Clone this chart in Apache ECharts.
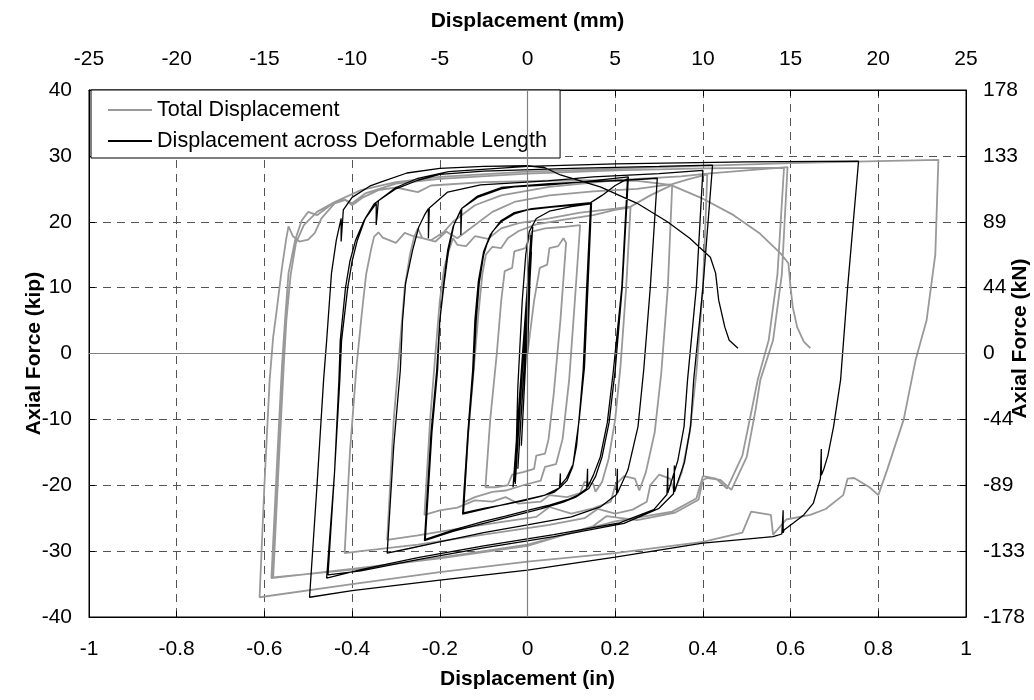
<!DOCTYPE html>
<html>
<head>
<meta charset="utf-8">
<title>Axial force vs displacement</title>
<script src="https://cdn.jsdelivr.net/npm/echarts@6.0.0/dist/echarts.min.js"></script>
<style>
    html, body { margin: 0; padding: 0; background: #fff; }
    #chart { width: 1034px; height: 700px; }
</style>
</head>
<body>
<div id="chart"></div>
<script>
// axis ticks (kip on the left, kN labels on the right)
var kipTicks = [-40, -30, -20, -10, 0, 10, 20, 30, 40];
var kNLabels = ['-178', '-133', '-89', '-44', '0', '44', '89', '133', '178'];

// Displacement across Deformable Length, [in, kip]
var deformElastic = [[0,0],[0.006,12],[-0.014,-14],[0.009,15.5],[-0.022,-17.5],[0.011,18.5],[-0.03,-19.5],[0.012,19.2],[-0.033,-20.3],[0.008,18],[-0.028,-19.8]];
var deformB = [[-0.022,-5],[-0.012,8],[-0.004,15],[0.004,18.5],[0.02,20.5],[0.05,21.6],[0.1,22.3],[0.144,22.7],
    [0.135,10],[0.127,-2.5],[0.12,-8.1],[0.112,-14],[0.103,-17.2],[0.09,-19.3],[0.075,-20.3],[0.06,-21.1],[0.03,-21.7],[0,-22.2],[-0.05,-22.9],[-0.1,-23.5],[-0.146,-24.2],
    [-0.135,-12],[-0.123,-2.5],[-0.117,5],[-0.11,10.7],[-0.1,15],[-0.093,16.5],[-0.08,18.5],[-0.06,20],[-0.03,21.2],[0,21.8],[0.05,22.2],[0.1,22.5],[0.146,22.8],
    [0.13,-2],[0.118,-10],[0.104,-16.8],[0.088,-19],[0.075,-20],[0.075,-18.2],[0.073,-20.4],[0.04,-21.5],[0,-22.1],[-0.06,-23],[-0.148,-24.4]];
var deformC = [[-0.136,-12],[-0.125,-2.5],[-0.12,5],[-0.112,11],[-0.1,15.5],[-0.085,18],[-0.06,20.2],[-0.03,21.4],[0.01,22],[0.07,22.4],[0.144,22.9],[0.17,24],[0.2,25.5],[0.228,26.5],
    [0.215,10],[0.196,-2.5],[0.182,-10.5],[0.166,-15.7],[0.15,-18.5],[0.137,-20.3],[0.137,-17.5],[0.135,-20.5],[0.115,-21.5],[0.091,-22.2],[0.05,-23],[0.007,-23.7],[-0.05,-24.7],[-0.1,-25.5],[-0.17,-26.8],[-0.233,-28.2],
    [-0.218,-12],[-0.205,-2.5],[-0.2,5],[-0.191,10.7],[-0.182,15.7],[-0.17,19.2],[-0.152,21.8],[-0.152,18],[-0.15,22],[-0.114,23.7],[-0.06,25],[-0.03,25.3],[0.05,25.6],[0.12,26],[0.23,26.8],
    [0.216,10],[0.2,-2.5],[0.186,-10.5],[0.17,-15.7],[0.155,-18.7],[0.14,-20.5],[0.11,-21.8],[0.08,-22.6],[0.03,-23.6],[-0.03,-24.6],[-0.1,-25.8],[-0.17,-27],[-0.235,-28.4]];
var deformD = [[-0.22,-12],[-0.207,-2.5],[-0.2,5],[-0.19,10.7],[-0.18,15.7],[-0.168,19.5],[-0.15,22],[-0.114,23.9],[-0.06,25.2],[0.05,25.8],[0.15,26.1],[0.22,26.3],[0.296,26.6],
    [0.28,10],[0.265,-2.5],[0.252,-11.1],[0.229,-17.7],[0.205,-21.2],[0.205,-17.5],[0.203,-21.4],[0.166,-23.3],[0.1,-24.8],[0,-26],[-0.1,-27.2],[-0.2,-28.6],[-0.27,-29.6],[-0.32,-30.3]];
var deformE = [[-0.305,-14],[-0.29,-2.5],[-0.285,5],[-0.278,10.7],[-0.262,15.7],[-0.248,19.2],[-0.235,21],[-0.226,22],[-0.226,17.5],[-0.224,22.1],[-0.182,24.5],[-0.107,25.6],[0.046,26.2],[0.15,26.8],[0.3,27.3],[0.4,27.8],
    [0.385,10],[0.365,-4],[0.357,-11.1],[0.343,-16.2],[0.32,-21.2],[0.32,-17.4],[0.318,-21.4],[0.288,-23.7],[0.21,-25.7],[0.06,-27.5],[-0.1,-29.2],[-0.25,-31],[-0.38,-32.8],[-0.458,-34.1],
    [-0.44,-18],[-0.43,-4],[-0.427,2],[-0.415,10],[-0.405,14],[-0.392,17.2],[-0.372,20.3],[-0.345,22.8],[-0.345,19.5],[-0.34,23.2],[-0.3,25],[-0.25,26.3],[-0.2,27.2],[-0.1,27.7],[0.1,28.1],[0.3,28.4],[0.422,28.6],
    [0.4,10],[0.379,-4],[0.372,-11],[0.358,-16.5],[0.335,-21],[0.335,-17],[0.333,-21.3],[0.3,-23.5],[0.22,-25.8],[0.06,-27.8],[-0.1,-29.5],[-0.25,-31.3],[-0.38,-33],[-0.455,-33.6]];
var deformF = [[-0.44,-18],[-0.428,-4],[-0.424,2],[-0.41,10],[-0.4,14],[-0.388,17.2],[-0.37,20.5],[-0.35,22.7],[-0.3,25.2],[-0.25,26.6],[-0.18,27.6],[0,28.4],[0.2,28.8],[0.5,29.1],[0.755,29.2],
    [0.73,10],[0.714,-4],[0.698,-11.1],[0.685,-15.5],[0.675,-17.7],[0.67,-18.5],[0.67,-14.5],[0.668,-19],[0.652,-22.7],[0.63,-24.5],[0.607,-25.7],[0.585,-26.8],[0.583,-27.2],[0.583,-23.8],[0.58,-27.4],[0.56,-27.8],[0.4,-28.8],[0.2,-30.9],[0,-32.9],[-0.2,-34.4],[-0.4,-36],[-0.497,-37]];
var deformFail = [[-0.48,-20],[-0.465,-4],[-0.458,2],[-0.447,12.2],[-0.436,17.2],[-0.425,20.5],[-0.425,17],[-0.42,21.8],[-0.4,23.7],[-0.36,25.4],[-0.335,26],[-0.275,27.4],[-0.2,28.1],[-0.1,28.4],[0,28.5],[0.04,28.2],[0.075,27.1],[0.166,25.3],[0.25,22.8],[0.319,20],[0.37,17.5],[0.417,14.6],[0.429,12.2],[0.436,8.1],[0.45,4],[0.46,2],[0.48,0.8]];

// Total Displacement, [in, kip]
var totalSmall = [[0,0],[0.015,8],[0.028,13],[0.045,13.5],[0.05,16],[0.07,16.3],[0.082,17.5],[0.088,16.8],
    [0.075,5],[0.06,-6],[0.048,-13],[0.04,-15.2],[0.02,-15.5],[0.015,-17.5],[-0.01,-18],[-0.035,-18.4],[-0.045,-20],[-0.07,-20.3],[-0.096,-20.3],
    [-0.085,-10],[-0.07,0],[-0.06,8],[-0.052,12.5],[-0.035,13],[-0.03,15.5],[-0.005,16],[0.01,18.5],[0.04,19],[0.08,19.2],[0.12,19.5],
    [0.108,8],[0.095,-4],[0.08,-13],[0.065,-16.8],[0.04,-17.2],[0.03,-19.3],[-0.01,-20],[-0.05,-20.8],[-0.08,-21],[-0.12,-21.8],[-0.146,-22.6]];
var totalB = [[-0.135,-12],[-0.122,-2],[-0.112,6],[-0.103,12],[-0.095,15],[-0.08,16.2],[-0.06,16],[-0.045,17.5],[-0.02,18.6],[0.02,19.6],[0.08,20.3],[0.15,21],[0.2,21.8],[0.235,22.2],
    [0.225,10],[0.212,-2],[0.2,-10],[0.185,-16],[0.17,-19.5],[0.155,-21],[0.15,-19.8],[0.13,-19.5],[0.12,-21.2],[0.09,-21.8],[0.05,-21.5],[0.03,-22.5],[-0.02,-22.8],[-0.05,-21.8],[-0.08,-22.5],[-0.12,-22.3],[-0.16,-23.4],[-0.2,-23.8],[-0.235,-24.5],
    [-0.222,-10],[-0.21,0],[-0.2,8],[-0.19,13],[-0.18,15.5],[-0.17,17.5],[-0.16,16.5],[-0.14,16.3],[-0.12,17.8],[-0.09,17.4],[-0.06,19],[-0.02,19.8],[0.05,20.5],[0.12,21.4],[0.2,22],[0.235,22.3]];
var totalC = [[0.28,24],[0.33,25.6],
    [0.32,10],[0.305,-3],[0.29,-12],[0.27,-18],[0.255,-20.8],[0.245,-19],[0.22,-18.6],[0.2,-20],[0.19,-22.5],[0.15,-23.5],[0.1,-24.3],[0.05,-23.3],[0.02,-24.8],[-0.05,-25.5],[-0.15,-26.5],[-0.25,-27.6],[-0.32,-28.3],
    [-0.305,-10],[-0.29,2],[-0.28,10],[-0.268,15],[-0.258,17.8],[-0.25,19],[-0.24,17.5],[-0.21,17],[-0.185,18.5],[-0.16,17.5],[-0.12,19.5],[-0.08,21.5],[-0.03,23],[0.05,24],[0.15,24.6],[0.25,25],[0.33,25.7]];
var totalD = [[0.37,26.5],[0.41,27.2],
    [0.4,10],[0.385,-3],[0.37,-12],[0.352,-18],[0.335,-21],[0.325,-19],[0.3,-18.4],[0.28,-20],[0.272,-22.5],[0.24,-23.7],[0.2,-24.3],[0.16,-23.6],[0.13,-25],[0.05,-26],[-0.1,-27.5],[-0.25,-29],[-0.38,-30],[-0.417,-30.3],
    [-0.405,-15],[-0.39,-2],[-0.378,6],[-0.368,12],[-0.357,15.7],[-0.35,17.7],[-0.34,18.4],[-0.33,17.6],[-0.3,16.8],[-0.28,18.3],[-0.26,17.8],[-0.22,17.2],[-0.19,18.5],[-0.17,20],[-0.12,22.5],[-0.06,24],[0.05,25.3],[0.2,26.3],[0.35,26.9],[0.41,27.3]];
var totalE = [[0.5,27.8],[0.593,28.3],
    [0.58,12],[0.56,2],[0.531,-4],[0.52,-8.6],[0.5,-15.7],[0.465,-20.7],[0.44,-19.2],[0.41,-18.9],[0.4,-19.2],[0.39,-22.2],[0.335,-24.2],[0.25,-25.3],[0.18,-24.7],[0.15,-26.2],[0,-29.2],[-0.2,-31.1],[-0.4,-32.7],[-0.584,-34.1],
    [-0.57,-15],[-0.56,-2],[-0.553,5],[-0.545,12.2],[-0.53,17.2],[-0.515,20.2],[-0.5,21.5],[-0.48,21],[-0.45,22.5],[-0.42,23.5],[-0.4,22.8],[-0.37,24.3],[-0.3,25.8],[-0.2,26.5],[0,27.3],[0.2,27.8],[0.4,28.1],[0.585,28.2],
    [0.57,12],[0.55,2],[0.525,-4],[0.51,-9],[0.49,-15.5],[0.455,-20.5],[0.43,-19],[0.4,-18.6],[0.385,-22],[0.33,-24],[0.2,-25.5],[0,-29],[-0.2,-31],[-0.4,-32.8],[-0.58,-34]];
var totalF = [[-0.566,-15],[-0.556,-2],[-0.55,5],[-0.54,12],[-0.528,16.8],[-0.51,19.5],[-0.48,21.5],[-0.44,23],[-0.38,24.8],[-0.3,26],[-0.2,26.8],[0,27.6],[0.3,28.3],[0.6,28.9],[0.8,29.2],[0.937,29.4],
    [0.93,15],[0.91,5],[0.885,-1],[0.858,-10],[0.82,-17.7],[0.8,-21.5],[0.78,-20.3],[0.745,-18.9],[0.73,-19],[0.72,-21.5],[0.68,-23.6],[0.645,-24.5],[0.59,-25.2],[0.56,-27.5],[0.555,-24.5],[0.51,-24],[0.49,-27.2],[0.4,-28.6],[0.2,-30.3],[0,-31.6],[-0.2,-33.2],[-0.4,-35],[-0.611,-37]];
var totalFail = [[-0.6,-20],[-0.588,-4],[-0.58,2.5],[-0.573,6],[-0.56,13],[-0.55,17.5],[-0.545,19.3],[-0.535,17.8],[-0.52,17],[-0.5,17.3],[-0.485,18.3],[-0.47,20.5],[-0.44,22.8],[-0.415,23.3],[-0.4,22.5],[-0.375,23.7],[-0.34,24.8],[-0.3,25.2],[-0.25,24.5],[-0.22,25.5],[-0.1,26],[0.1,26.3],[0.25,26.2],[0.326,25.6],[0.4,23.5],[0.47,21],[0.53,18.2],[0.577,15.2],[0.595,13.7],[0.6,10],[0.605,7],[0.615,4],[0.63,1.8],[0.645,0.8]];

var totalPath = [].concat(totalSmall, totalB, totalC, totalD, totalE, totalF, totalFail);
var deformPath = [].concat(deformElastic, deformB, deformC, deformD, deformE, deformF, deformFail);

var font = 'Liberation Sans, Arial, sans-serif';
var labelStyle = { color: '#000', fontSize: 21, fontFamily: font };
var nameStyle = { color: '#000', fontSize: 21, fontWeight: 'bold', fontFamily: font };
var dashGrid = { show: true, lineStyle: { color: '#555', type: [8, 6], width: 1 } };

var option = {
    animation: false,
    backgroundColor: '#fff',
    grid: {
        left: 89, right: 68, top: 90, bottom: 83,
        outerBoundsMode: 'none',
        show: true, borderColor: '#000', borderWidth: 1, backgroundColor: 'transparent'
    },
    legend: {
        data: [
            { name: 'Total Displacement', icon: 'rect', itemStyle: { color: '#999' } },
            { name: 'Displacement across Deformable Length', icon: 'rect', itemStyle: { color: '#000' } }
        ],
        orient: 'vertical',
        left: 91, top: 90,
        padding: [9, 13, 6, 17],
        itemGap: 9,
        itemWidth: 44, itemHeight: 2,
        backgroundColor: '#fff',
        borderColor: '#000', borderWidth: 1,
        textStyle: { color: '#000', fontSize: 21.6, fontFamily: font }
    },
    xAxis: [
        {
            type: 'value', position: 'bottom', min: -1, max: 1, interval: 0.2,
            name: 'Displacement (in)', nameLocation: 'middle', nameGap: 52, nameMoveOverlap: false,
            nameTextStyle: nameStyle,
            axisLine: { onZero: false, lineStyle: { color: '#000' } },
            axisTick: { inside: true, length: 6, lineStyle: { color: '#000' } },
            axisLabel: Object.assign({ margin: 22 }, labelStyle),
            splitLine: dashGrid
        },
        {
            type: 'value', position: 'top', min: -25, max: 25, interval: 5,
            name: 'Displacement (mm)', nameLocation: 'middle', nameGap: 58, nameMoveOverlap: false,
            nameTextStyle: nameStyle,
            axisLine: { onZero: false, lineStyle: { color: '#000' } },
            axisTick: { inside: true, length: 6, lineStyle: { color: '#000' } },
            axisLabel: Object.assign({ margin: 20 }, labelStyle),
            splitLine: { show: false }
        }
    ],
    yAxis: [
        {
            type: 'value', position: 'left', min: -40, max: 40, interval: 10,
            name: 'Axial Force (kip)', nameLocation: 'middle', nameGap: 44, nameMoveOverlap: false,
            nameTextStyle: nameStyle,
            axisLine: { onZero: false, lineStyle: { color: '#000' } },
            axisTick: { inside: true, length: 6, lineStyle: { color: '#000' } },
            axisLabel: Object.assign({ margin: 17 }, labelStyle),
            splitLine: dashGrid
        },
        {
            type: 'value', position: 'right', min: -40, max: 40, interval: 10,
            name: 'Axial Force (kN)', nameLocation: 'middle', nameGap: 44, nameMoveOverlap: false,
            nameTextStyle: Object.assign({ padding: [0, 0, 0, 30] }, nameStyle),
            axisLine: { onZero: false, lineStyle: { color: '#000' } },
            axisTick: { inside: true, length: 6, lineStyle: { color: '#000' } },
            axisLabel: Object.assign({
                margin: 17,
                formatter: function (v) { return kNLabels[kipTicks.indexOf(v)]; }
            }, labelStyle),
            splitLine: { show: false }
        }
    ],
    series: [
        {
            name: 'Total Displacement',
            type: 'line',
            data: totalPath,
            showSymbol: false, symbol: 'none',
            lineStyle: { color: '#999', width: 1.8 },
            itemStyle: { color: '#999' },
            markLine: {
                silent: true, symbol: 'none', label: { show: false },
                lineStyle: { color: '#808080', type: 'solid', width: 1.2 },
                data: [{ xAxis: 0 }, { yAxis: 0 }]
            }
        },
        {
            name: 'Displacement across Deformable Length',
            type: 'line',
            data: deformPath,
            showSymbol: false, symbol: 'none',
            lineStyle: { color: '#000', width: 1.3 },
            itemStyle: { color: '#000' }
        }
    ]
};

var chart = echarts.init(document.getElementById('chart'));
chart.setOption(option);
</script>
</body>
</html>
